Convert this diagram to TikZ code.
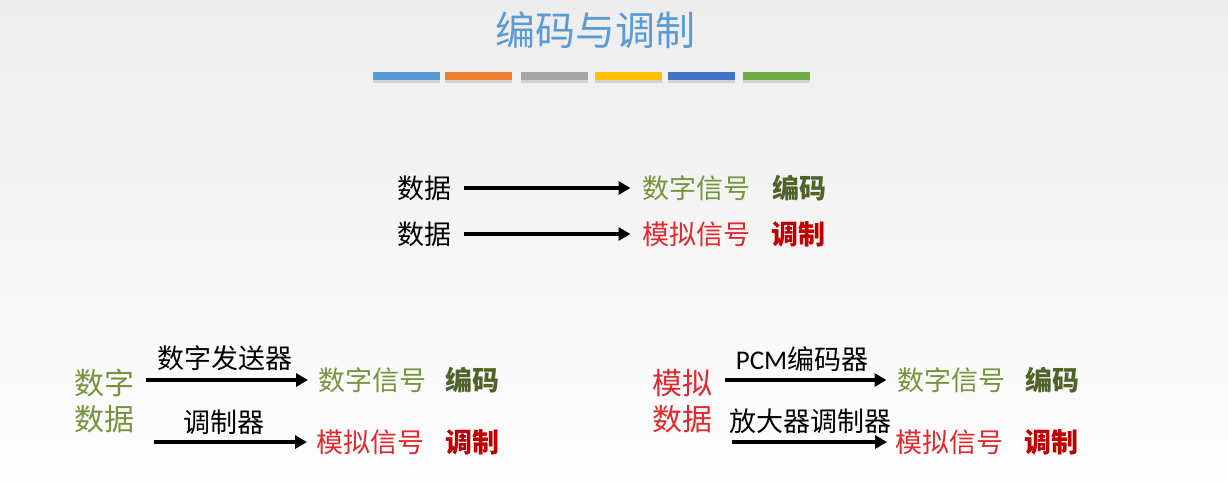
\documentclass[tikz,border=0pt]{standalone}
\usepackage{fontspec}
\setmainfont{Noto Sans CJK SC}
\newfontfamily\latinfont{Carlito}
\usetikzlibrary{arrows.meta,shadows}
\definecolor{bgtop}{HTML}{EDEDED}
\definecolor{bgbot}{HTML}{FEFEFE}
\definecolor{titleblue}{HTML}{5B9BD5}
\definecolor{barA}{HTML}{5B9BD5}
\definecolor{barB}{HTML}{ED7D31}
\definecolor{barC}{HTML}{A5A5A5}
\definecolor{barD}{HTML}{FFC000}
\definecolor{barE}{HTML}{4472C4}
\definecolor{barF}{HTML}{70AD47}
\definecolor{sgreen}{HTML}{77933C}
\definecolor{dgreen}{HTML}{4F6228}
\definecolor{sred}{HTML}{E0282E}
\definecolor{dred}{HTML}{C00000}
\begin{document}
\begin{tikzpicture}[x=1pt,y=1pt,
  txt/.style={inner sep=0pt, outer sep=0pt, font=\fontsize{27}{30}\selectfont},
  big/.style={inner sep=0pt, outer sep=0pt, font=\fontsize{30}{33}\selectfont},
  bold/.style={inner sep=0pt, outer sep=0pt, font=\fontsize{27}{30}\selectfont\bfseries},
  arr/.style={line width=3.5pt, -{Triangle[length=12pt,width=13pt]}},
  bar/.style={minimum width=67pt, minimum height=8pt, inner sep=0pt, draw=none,
    drop shadow={shadow xshift=0pt, shadow yshift=-2.5pt, opacity=0.25}}]
\shade[top color=bgtop, bottom color=bgbot] (0,0) rectangle (1228,-482);
\useasboundingbox (0,0) rectangle (1228,-482);

% title
\node[inner sep=0pt, text=titleblue, font=\fontsize{40}{44}\selectfont] (title) at (595,-30) {编码与调制};
\node[bar, fill=barA] (b1) at (406.5,-76) {};
\node[bar, fill=barB] (b2) at (478.5,-76) {};
\node[bar, fill=barC] (b3) at (554.5,-76) {};
\node[bar, fill=barD] (b4) at (628.5,-76) {};
\node[bar, fill=barE] (b5) at (701.5,-76) {};
\node[bar, fill=barF] (b6) at (776.5,-76) {};

% top rows
\node[txt] (d1) at (424,-188) {数据};
\node[txt, text=sgreen] (s1) at (696.5,-188) {数字信号};
\node[bold, text=dgreen] (e1) at (799,-188) {编码};
\draw[arr] ([xshift=13pt]d1.east) -- ([xshift=-12pt]s1.west);

\node[txt] (d2) at (424,-234) {数据};
\node[txt, text=sred] (s2) at (696.5,-234) {模拟信号};
\node[bold, text=dred] (e2) at (798,-234) {调制};
\draw[arr] ([xshift=13pt]d2.east) -- ([xshift=-12pt]s2.west);

% bottom left
\node[big, text=sgreen] (dd1) at (104,-383) {数字};
\node[big, text=sgreen] (dd2) at (104,-419) {数据};
\node[txt, text=sgreen] (s3) at (372.5,-380) {数字信号};
\node[bold, text=dgreen] (e3) at (472.5,-380) {编码};
\node[txt, text=sred] (s4) at (370,-442) {模拟信号};
\node[bold, text=dred] (e4) at (472,-442) {调制};
\node[txt] (l1) at (225,-358) {数字发送器};
\node[txt] (l2) at (224,-422) {调制器};
\draw[arr] ([xshift=12pt]dd1.east |- s3.west) -- ([xshift=-10.5pt]s3.west);
\draw[arr] ([xshift=19.5pt]dd2.east |- s4.west) -- ([xshift=-9pt]s4.west);

% bottom right
\node[big, text=sred] (md1) at (682.5,-383) {模拟};
\node[big, text=sred] (md2) at (682.5,-419) {数据};
\node[txt, text=sgreen] (s5) at (951.5,-380) {数字信号};
\node[bold, text=dgreen] (e5) at (1052,-380) {编码};
\node[txt, text=sred] (s6) at (949.5,-442) {模拟信号};
\node[bold, text=dred] (e6) at (1051,-442) {调制};
\node[txt] (l3) at (802,-359) {{\latinfont PCM}编码器};
\node[txt] (l4) at (810,-421) {放大器调制器};
\draw[arr] ([xshift=12pt]md1.east |- s5.west) -- ([xshift=-11pt]s5.west);
\draw[arr] ([xshift=19.5pt]md2.east |- s6.west) -- ([xshift=-8.5pt]s6.west);
\end{tikzpicture}
\end{document}
